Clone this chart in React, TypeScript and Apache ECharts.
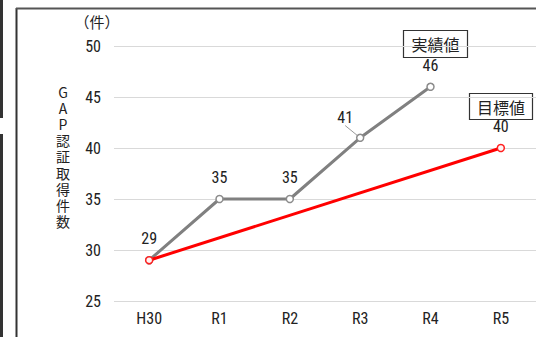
import React, { useEffect, useRef } from "react";
import * as echarts from "echarts";

const categories = ["H30", "R1", "R2", "R3", "R4", "R5"];
const actualValues: (number | null)[] = [29, 35, 35, 41, 46, null];
const targetValues: (number | null)[] = [29, null, null, null, null, 40];
const yTicks = { min: 25, max: 50, interval: 5 };
const yTitleChars = ["G", "A", "P", "認", "証", "取", "得", "件", "数"];

const NUM_FONT = '"Liberation Sans Narrow", "Roboto Condensed", "Liberation Sans", sans-serif';
const JP_FONT = '"Noto Sans CJK JP", sans-serif';

export default function App() {
  const ref = useRef<HTMLDivElement>(null);

  useEffect(() => {
    document.body.style.margin = "0";
    if (!ref.current) return;
    const chart = echarts.init(ref.current, undefined, { renderer: "svg" });

    // the R3 label sits off to the left with a short leader line
    const actualData = actualValues.map((v, i) =>
      i === 3
        ? { value: v, labelLine: { show: true, lineStyle: { color: "#999", width: 1 } } }
        : v
    );

    const titleTexts = yTitleChars.map((ch, i) => ({
      type: "text",
      x: 63,
      y: 92 + i * 16.1,
      style: {
        text: ch,
        fill: "#222",
        font: `14px ${JP_FONT}`,
        align: "center",
        verticalAlign: "middle",
        lineHeight: 14,
      },
    }));

    chart.setOption({
      animation: false,
      backgroundColor: "#ffffff",
      grid: { left: 114, top: 46, width: 424, bottom: 36, containLabel: false },
      xAxis: {
        type: "category",
        data: categories,
        boundaryGap: true,
        axisLine: { show: false },
        axisTick: { show: false },
        axisLabel: { color: "#222", fontSize: 16, fontFamily: NUM_FONT, margin: 9 },
        splitLine: { show: false },
      },
      yAxis: {
        type: "value",
        min: yTicks.min,
        max: yTicks.max,
        interval: yTicks.interval,
        axisLine: { show: false },
        axisTick: { show: false },
        axisLabel: { color: "#222", fontSize: 16, fontFamily: NUM_FONT, margin: 13 },
        splitLine: { lineStyle: { color: "#d9d9d9", width: 1 } },
      },
      series: [
        {
          name: "実績値",
          type: "line",
          data: actualData,
          z: 2,
          lineStyle: { color: "#808080", width: 3 },
          itemStyle: { color: "#ffffff", borderColor: "#8c8c8c", borderWidth: 1.5 },
          symbol: "circle",
          symbolSize: 7,
          label: {
            show: true,
            position: "top",
            distance: 9,
            color: "#222",
            fontSize: 16,
            fontFamily: NUM_FONT,
          },
          labelLayout: (p: any) => (p.dataIndex === 3 ? { dx: -15, dy: 1 } : {}),
          labelLine: { show: false },
        },
        {
          name: "目標値",
          type: "line",
          data: targetValues,
          connectNulls: true,
          z: 3,
          lineStyle: { color: "#ff0000", width: 3 },
          itemStyle: { color: "#fff3f3", borderColor: "#ff2020", borderWidth: 1.5 },
          symbol: "circle",
          symbolSize: 7,
          label: {
            show: true,
            position: "top",
            distance: 9,
            color: "#222",
            fontSize: 16,
            fontFamily: NUM_FONT,
            formatter: (p: any) => (p.dataIndex === 5 ? String(p.value) : ""),
          },
        },
      ],
      graphic: [
        // outer border pieces on the far left
        { type: "rect", shape: { x: 0, y: 0, width: 3, height: 118 }, style: { fill: "#333" } },
        { type: "rect", shape: { x: 0, y: 134, width: 3, height: 203 }, style: { fill: "#333" } },
        // chart frame
        { type: "line", shape: { x1: 16.5, y1: 8, x2: 16.5, y2: 337 }, style: { stroke: "#333", lineWidth: 2 } },
        { type: "line", shape: { x1: 16, y1: 8.5, x2: 536, y2: 8.5 }, style: { stroke: "#555", lineWidth: 2 } },
        // unit label
        {
          type: "text",
          x: 97,
          y: 21,
          style: { text: "（件）", fill: "#222", font: `15px ${JP_FONT}`, align: "center", verticalAlign: "middle" },
        },
        // vertical axis title
        ...titleTexts,
        // series callouts
        {
          type: "rect",
          shape: { x: 403.5, y: 30.5, width: 64, height: 27 },
          style: { fill: "#fff", stroke: "#333", lineWidth: 1.2 },
        },
        {
          type: "text",
          x: 435.5,
          y: 44,
          style: { text: "実績値", fill: "#222", font: `16px ${JP_FONT}`, align: "center", verticalAlign: "middle" },
        },
        {
          type: "rect",
          shape: { x: 469.5, y: 93.5, width: 63, height: 26 },
          style: { fill: "#fff", stroke: "#333", lineWidth: 1.2 },
        },
        {
          type: "text",
          x: 501,
          y: 106.5,
          style: { text: "目標値", fill: "#222", font: `16px ${JP_FONT}`, align: "center", verticalAlign: "middle" },
        },
      ],
    });

    return () => chart.dispose();
  }, []);

  return <div ref={ref} style={{ width: 536, height: 337 }} />;
}
